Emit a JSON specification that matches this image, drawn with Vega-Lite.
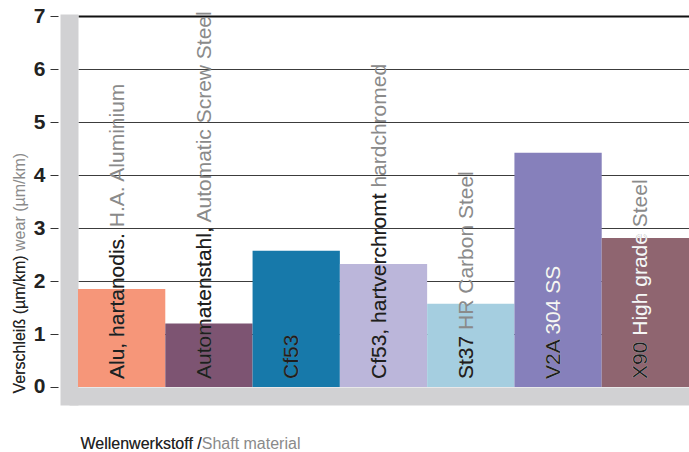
{
  "$schema": "https://vega.github.io/schema/vega-lite/v6.json",
  "autosize": "none",
  "width": 611,
  "height": 391,
  "padding": {"left": 78, "top": 14, "right": 0, "bottom": 47},
  "background": "white",
  "config": {"view": {"stroke": null}, "font": "Liberation Sans"},
  "data": {
    "values": [
      {"material": "Alu", "wear": 1.85, "de": "Alu, hartanodis.", "light": "", "full": "Alu, hartanodis. H.A. Aluminium"},
      {"material": "Automatenstahl", "wear": 1.2, "de": "Automatenstahl,", "light": "", "full": "Automatenstahl, Automatic Screw Steel"},
      {"material": "Cf53", "wear": 2.57, "de": "Cf53", "light": "", "full": "Cf53"},
      {"material": "Cf53 hartverchromt", "wear": 2.32, "de": "Cf53, hartverchromt", "light": "", "full": "Cf53, hartverchromt hardchromed"},
      {"material": "St37", "wear": 1.57, "de": "St37", "light": "", "full": "St37 HR Carbon Steel"},
      {"material": "V2A", "wear": 4.42, "de": "V2A", "light": "V2A 304 SS", "full": "V2A 304 SS"},
      {"material": "X90", "wear": 2.81, "de": "X90", "light": "X90 High grade", "full": "X90 High grade Steel"}
    ]
  },
  "layer": [
    {
      "mark": {"type": "bar"},
      "encoding": {
        "x": {
          "field": "material", "type": "nominal", "sort": null,
          "scale": {"paddingInner": 0, "paddingOuter": 0},
          "axis": {
            "orient": "bottom", "offset": -9, "domain": true, "domainColor": "#d1d1d3", "domainWidth": 18, "domainCap": "square",
            "ticks": false, "labels": false, "grid": false,
            "title": "Wellenwerkstoff /Shaft material", "titleColor": "#8a8a8a", "titleFont": "Liberation Sans",
            "titleFontSize": 16, "titleFontWeight": "normal", "titleX": 2, "titleY": 52, "titleAlign": "left",
            "titleBaseline": "alphabetic", "titleAngle": 0, "zindex": 0
          }
        },
        "y": {
          "field": "wear", "type": "quantitative",
          "scale": {"domain": [-0.34, 7.04], "nice": false, "zero": false},
          "axis": {
            "orient": "left", "offset": 9, "values": [1, 2, 3, 4, 5, 6, 7],
            "domain": true, "domainColor": "#d1d1d3", "domainWidth": 18, "domainCap": "butt",
            "ticks": false, "labels": false, "grid": true,
            "gridColor": {"condition": {"test": "datum.value === 7", "value": "#111111"}, "value": "#3c3c3c"},
            "gridWidth": {"condition": {"test": "datum.value === 7", "value": 2.2}, "value": 1.2},
            "title": "Verschleiß (µm/km) wear (µm/km)", "titleColor": "#8a8a8a", "titleFont": "Liberation Sans",
            "titleFontSize": 16, "titleFontWeight": "normal", "titleAngle": 270, "titleAlign": "left",
            "titleBaseline": "alphabetic", "titleX": -45, "titleY": 379, "zindex": 0
          }
        },
        "color": {
          "field": "material", "type": "nominal", "legend": null,
          "scale": {
            "domain": ["Alu", "Automatenstahl", "Cf53", "Cf53 hartverchromt", "St37", "V2A", "X90"],
            "range": ["#F69679", "#7D5472", "#1779AA", "#BBB6DA", "#A5CEE0", "#8680BB", "#8F6570"]
          }
        }
      }
    },
    {
      "mark": {"type": "text", "angle": 270, "align": "left", "baseline": "middle", "dx": 8, "dy": -4, "fontSize": 21, "font": "Liberation Sans", "color": "#8a8a8a"},
      "encoding": {
        "x": {
          "field": "material", "type": "nominal", "sort": null,
          "axis": {
            "orient": "bottom", "offset": -9, "domain": false, "ticks": false, "labels": false, "grid": false,
            "title": "Wellenwerkstoff /", "titleColor": "#222222", "titleFont": "Liberation Sans",
            "titleFontSize": 16, "titleFontWeight": "normal", "titleX": 2, "titleY": 52, "titleAlign": "left",
            "titleBaseline": "alphabetic", "titleAngle": 0, "zindex": 1
          }
        },
        "y": {
          "datum": 0, "type": "quantitative",
          "axis": {
            "orient": "left", "offset": 20, "values": [0, 1, 2, 3, 4, 5, 6, 7],
            "domain": false, "grid": false, "ticks": true, "tickSize": 8, "tickColor": "#333333", "tickWidth": 1,
            "labels": true, "labelFont": "Liberation Sans", "labelFontSize": 21, "labelFontWeight": "bold",
            "labelColor": "#222222", "labelPadding": 5,
            "title": "Verschleiß (µm/km)", "titleColor": "#222222", "titleFont": "Liberation Sans",
            "titleFontSize": 16, "titleFontWeight": "normal", "titleAngle": 270, "titleAlign": "left",
            "titleBaseline": "alphabetic", "titleX": -34, "titleY": 379, "zindex": 1
          }
        },
        "text": {"field": "full"}
      }
    },
    {
      "mark": {"type": "text", "angle": 270, "align": "left", "baseline": "middle", "dx": 8, "dy": -4, "fontSize": 21, "font": "Liberation Sans", "color": "#f6f6f6"},
      "encoding": {
        "x": {"field": "material", "type": "nominal", "sort": null, "axis": null},
        "y": {"datum": 0, "type": "quantitative", "axis": null},
        "text": {"field": "light"}
      }
    },
    {
      "mark": {"type": "text", "angle": 270, "align": "left", "baseline": "middle", "dx": 8, "dy": -4, "fontSize": 21, "font": "Liberation Sans", "color": "#1e1e1e"},
      "encoding": {
        "x": {"field": "material", "type": "nominal", "sort": null, "axis": null},
        "y": {"datum": 0, "type": "quantitative", "axis": null},
        "text": {"field": "de"}
      }
    }
  ],
  "resolve": {"axis": {"x": "independent", "y": "independent"}}
}
